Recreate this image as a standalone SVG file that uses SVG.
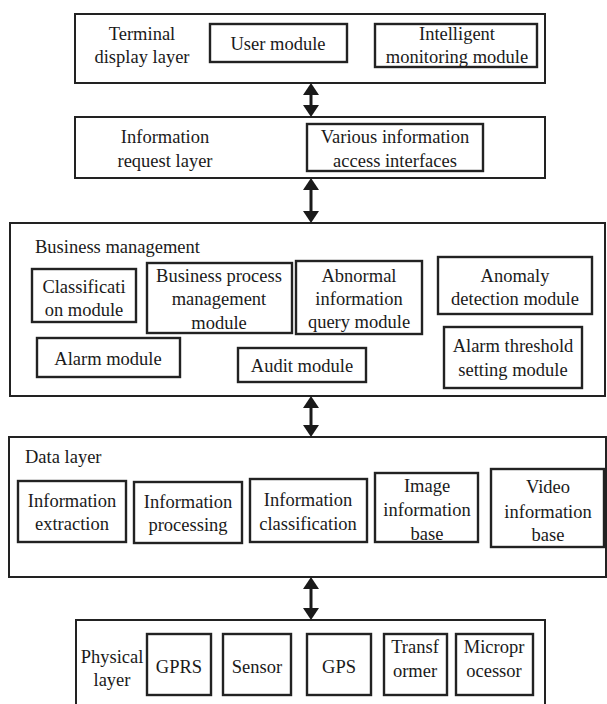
<svg xmlns="http://www.w3.org/2000/svg" width="607" height="704" viewBox="0 0 607 704">
<defs>
<marker id="ah" viewBox="0 0 12 16" refX="6" refY="8" markerWidth="12" markerHeight="16" markerUnits="userSpaceOnUse" orient="auto-start-reverse">
<path d="M0,0 L12,8 L0,16 z" fill="#1a1a1a"/>
</marker>
<style>
.layer{fill:#fff;stroke:#222;stroke-width:2}
.mod{fill:#fff;stroke:#222;stroke-width:2.4}
text{font-size:18.5px;fill:#1a1a1a;text-anchor:middle}
.l{text-anchor:start}
.conn{stroke:#1a1a1a;stroke-width:3;fill:none}
</style>
</defs>
<rect width="607" height="704" fill="#fff"/>
<g font-family="Liberation Serif, DejaVu Serif, serif">
<g id="terminal-layer">
<rect class="layer" x="75" y="14" width="470" height="69"/>
<text x="142" y="40">Terminal</text>
<text x="142" y="63">display layer</text>
</g>
<g id="user-module">
<rect class="mod" x="210" y="24" width="137" height="38"/>
<text x="278" y="50">User module</text>
</g>
<g id="intelligent-monitoring">
<rect class="mod" x="375" y="24" width="162" height="43"/>
<text x="457" y="40">Intelligent</text>
<text x="457" y="63">monitoring module</text>
</g>

<g id="info-request-layer">
<rect class="layer" x="75" y="117" width="470" height="61"/>
<text x="165" y="143">Information</text>
<text x="165" y="167">request layer</text>
</g>
<g id="access-interfaces">
<rect class="mod" x="307" y="124" width="176" height="47"/>
<text x="395" y="143">Various information</text>
<text x="395" y="167">access interfaces</text>
</g>

<g id="business-layer">
<rect class="layer" x="10" y="223" width="595" height="173"/>
<text class="l" x="35" y="253">Business management</text>
</g>
<g id="classification-module">
<rect class="mod" x="32" y="269" width="104" height="53"/>
<text x="84" y="293">Classificati</text>
<text x="84" y="316">on module</text>
</g>
<g id="business-process">
<rect class="mod" x="147" y="263" width="145" height="70"/>
<text x="219" y="282">Business process</text>
<text x="219" y="305">management</text>
<text x="219" y="329">module</text>
</g>
<g id="abnormal-query">
<rect class="mod" x="296" y="261" width="126" height="73"/>
<text x="359" y="282">Abnormal</text>
<text x="359" y="305">information</text>
<text x="359" y="328">query module</text>
</g>
<g id="anomaly-detection">
<rect class="mod" x="438" y="257" width="154" height="57"/>
<text x="515" y="282">Anomaly</text>
<text x="515" y="305">detection module</text>
</g>
<g id="alarm-module">
<rect class="mod" x="37" y="338" width="143" height="39"/>
<text x="108" y="365">Alarm module</text>
</g>
<g id="audit-module">
<rect class="mod" x="238" y="348" width="128" height="34"/>
<text x="302" y="372">Audit module</text>
</g>
<g id="alarm-threshold">
<rect class="mod" x="444" y="327" width="138" height="61"/>
<text x="513" y="352">Alarm threshold</text>
<text x="513" y="376">setting module</text>
</g>

<g id="data-layer">
<rect class="layer" x="9" y="437" width="597" height="140"/>
<text class="l" x="25" y="463">Data layer</text>
</g>
<g id="info-extraction">
<rect class="mod" x="18" y="481" width="108" height="61"/>
<text x="72" y="507">Information</text>
<text x="72" y="530">extraction</text>
</g>
<g id="info-processing">
<rect class="mod" x="134" y="482" width="108" height="61"/>
<text x="188" y="508">Information</text>
<text x="188" y="531">processing</text>
</g>
<g id="info-classification">
<rect class="mod" x="250" y="479" width="117" height="63"/>
<text x="308" y="506">Information</text>
<text x="308" y="530">classification</text>
</g>
<g id="image-base">
<rect class="mod" x="375" y="473" width="103" height="69"/>
<text x="427" y="492">Image</text>
<text x="427" y="516">information</text>
<text x="427" y="540">base</text>
</g>
<g id="video-base">
<rect class="mod" x="491" y="469" width="113" height="78"/>
<text x="548" y="493">Video</text>
<text x="548" y="518">information</text>
<text x="548" y="541">base</text>
</g>

<g id="physical-layer">
<rect class="layer" x="76" y="620" width="469" height="92"/>
<text x="112" y="663">Physical</text>
<text x="112" y="686">layer</text>
</g>
<g id="gprs">
<rect class="mod" x="147" y="634" width="64" height="61"/>
<text x="179" y="673">GPRS</text>
</g>
<g id="sensor">
<rect class="mod" x="223" y="634" width="68" height="61"/>
<text x="257" y="673">Sensor</text>
</g>
<g id="gps">
<rect class="mod" x="307" y="634" width="64" height="61"/>
<text x="339" y="673">GPS</text>
</g>
<g id="transformer">
<rect class="mod" x="384" y="634" width="63" height="61"/>
<text x="415" y="653">Transf</text>
<text x="415" y="677">ormer</text>
</g>
<g id="microprocessor">
<rect class="mod" x="456" y="634" width="77" height="61"/>
<text x="494" y="653">Micropr</text>
<text x="494" y="677">ocessor</text>
</g>
</g>
<g id="connectors">
<line class="conn" x1="311" y1="89" x2="311" y2="111" marker-start="url(#ah)" marker-end="url(#ah)"/>
<line class="conn" x1="311" y1="184" x2="311" y2="217" marker-start="url(#ah)" marker-end="url(#ah)"/>
<line class="conn" x1="311" y1="402" x2="311" y2="431" marker-start="url(#ah)" marker-end="url(#ah)"/>
<line class="conn" x1="311" y1="583" x2="311" y2="614" marker-start="url(#ah)" marker-end="url(#ah)"/>
</g>
</svg>
